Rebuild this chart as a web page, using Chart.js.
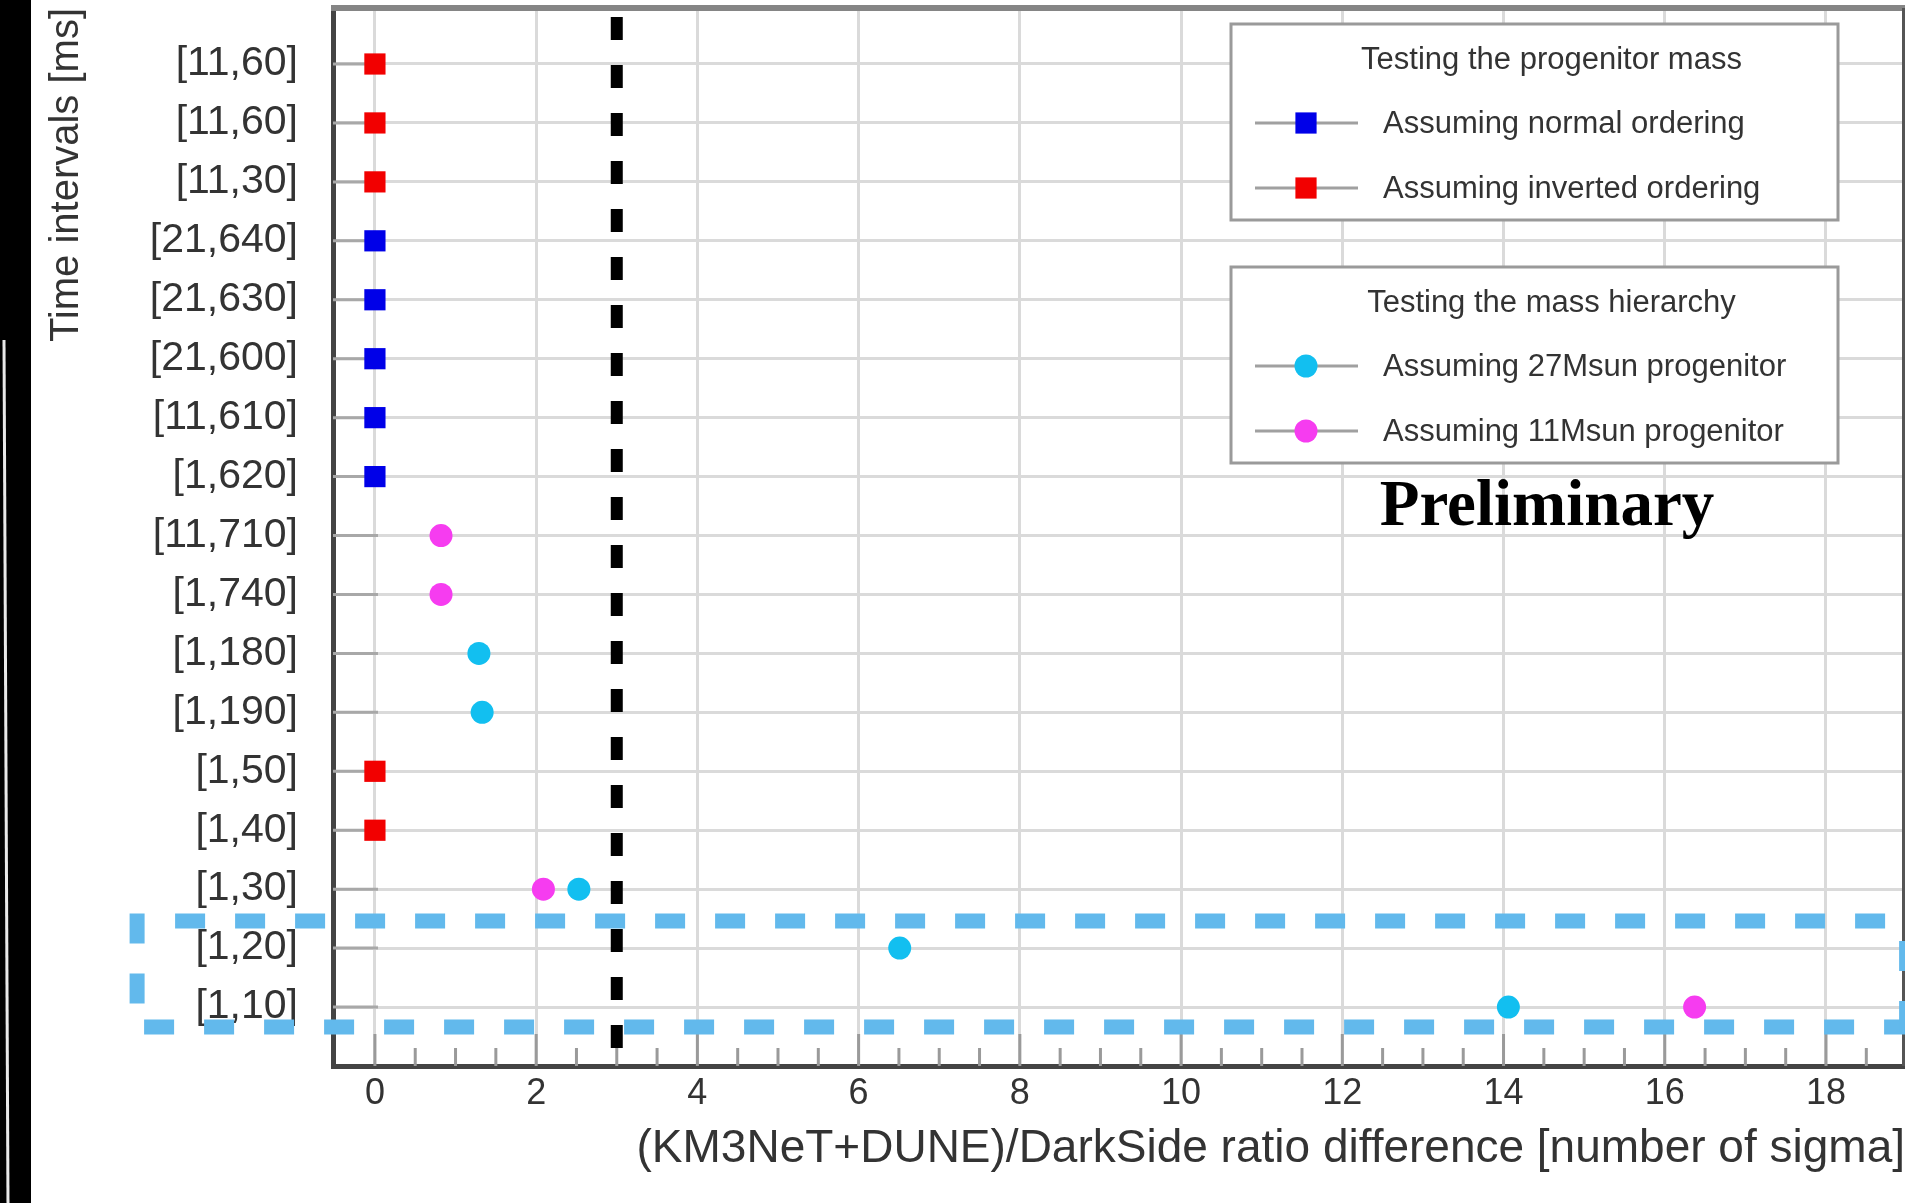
<!DOCTYPE html>
<html>
<head>
<meta charset="utf-8">
<title>Time intervals vs ratio difference</title>
<script src="https://cdn.jsdelivr.net/npm/chart.js@4.4.1/dist/chart.umd.min.js"></script>
<style>
  html, body { margin: 0; padding: 0; background: #fff; }
  #wrap { width: 1905px; height: 1203px; overflow: hidden; }
</style>
</head>
<body>
<div id="wrap"><canvas id="sigmaChart" width="1905" height="1203"></canvas></div>
<script>
//* Input data //*

// Time intervals, top row first.
var timeIntervals = ['[11,60]', '[11,60]', '[11,30]', '[21,640]', '[21,630]', '[21,600]', '[11,610]', '[1,620]',
    '[11,710]', '[1,740]', '[1,180]', '[1,190]', '[1,50]', '[1,40]', '[1,30]', '[1,20]', '[1,10]'];
var xTickValues = [0, 2, 4, 6, 8, 10, 12, 14, 16, 18];

// Number of sigma for each row (null = no point on that row).
var normalOrdering   = [null, null, null, 0, 0, 0, 0, 0, null, null, null, null, null, null, null, null, null];
var invertedOrdering = [0, 0, 0, null, null, null, null, null, null, null, null, null, 0, 0, null, null, null];
var progenitor27     = [null, null, null, null, null, null, null, null, null, null, 1.29, 1.33, null, null, 2.53, 6.51, 14.06];
var progenitor11     = [null, null, null, null, null, null, null, null, 0.82, 0.82, null, null, null, null, 2.09, null, 16.37];

var sigmaThreshold = 3;

var legendGroups = [
    {title: 'Testing the progenitor mass', datasets: [0, 1]},
    {title: 'Testing the mass hierarchy', datasets: [2, 3]}
];

//* Layout //*

var fontFamily = '"Liberation Sans", Arial, sans-serif';
var textColour = '#333';
var xMin = -0.52, xMax = 18.98;
var yMin = 0, yMax = 17.95;
// Highlight box around the two shortest intervals, in axis units.
var highlight = {xMin: -2.95, xMax: 19.0, yMin: 0.66, yMax: 2.46};

function toPoints(values) {
    // Turn a row list into scatter points, row 0 at the top.
    var points = [];
    for (var i = 0; i < values.length; i++) {
        if (values[i] !== null) {
            points.push({x: values[i], y: timeIntervals.length - i});
        }
    }
    return points;
}

function noEdgePadding(axis) {
    // The end labels sit well inside the range, so no extra room is needed.
    axis.paddingTop = 0;
    axis.paddingBottom = 0;
    axis.paddingLeft = 0;
    axis.paddingRight = 0;
}

//* Plugins //*

var leftBand = {
    id: 'leftBand',
    beforeDraw: function(chart) {
        var ctx = chart.ctx;
        ctx.save();
        ctx.fillStyle = '#fff';
        ctx.fillRect(0, 0, chart.width, chart.height);
        ctx.fillStyle = '#000';
        ctx.fillRect(0, 0, 31, chart.height);
        ctx.strokeStyle = '#e8e8e8';
        ctx.lineWidth = 3;
        ctx.beginPath();
        ctx.moveTo(4, 340);
        ctx.lineTo(8, chart.height);
        ctx.stroke();
        ctx.restore();
    }
};

var innerTicks = {
    id: 'innerTicks',
    beforeDatasetsDraw: function(chart) {
        var ctx = chart.ctx;
        var area = chart.chartArea;
        var xs = chart.scales.x;
        var ys = chart.scales.y;
        ctx.save();
        ctx.lineWidth = 3;
        // Stubs on the left axis for each row.
        ctx.strokeStyle = '#a8a8a8';
        ys.ticks.forEach(function(t) {
            var py = ys.getPixelForValue(t.value);
            ctx.beginPath();
            ctx.moveTo(area.left, py);
            ctx.lineTo(area.left + 45, py);
            ctx.stroke();
        });
        // Major and minor ticks on the bottom axis.
        ctx.strokeStyle = '#9a9a9a';
        for (var v = 0; v <= xMax; v += 0.5) {
            var px = xs.getPixelForValue(v);
            var len = (v % 2 === 0) ? 32 : 18;
            ctx.beginPath();
            ctx.moveTo(px, area.bottom);
            ctx.lineTo(px, area.bottom - len);
            ctx.stroke();
        }
        // Top and right frame.
        ctx.strokeStyle = '#858585';
        ctx.lineWidth = 6;
        ctx.beginPath();
        ctx.moveTo(area.left - 2, area.top);
        ctx.lineTo(area.right, area.top);
        ctx.stroke();
        ctx.strokeStyle = '#555';
        ctx.lineWidth = 3;
        ctx.beginPath();
        ctx.moveTo(area.right - 1.5, area.top);
        ctx.lineTo(area.right - 1.5, area.bottom);
        ctx.stroke();
        ctx.restore();
    }
};

var highlightBox = {
    id: 'highlightBox',
    afterDatasetsDraw: function(chart) {
        var ctx = chart.ctx;
        var xs = chart.scales.x;
        var ys = chart.scales.y;
        var L = xs.getPixelForValue(highlight.xMin);
        var R = xs.getPixelForValue(highlight.xMax);
        var T = ys.getPixelForValue(highlight.yMax);
        var B = ys.getPixelForValue(highlight.yMin);
        ctx.save();
        ctx.strokeStyle = '#62b9ec';
        ctx.lineWidth = 15;
        ctx.lineCap = 'butt';
        ctx.setLineDash([30, 30]);
        // Left side, from the corner down.
        ctx.lineDashOffset = 0;
        ctx.beginPath();
        ctx.moveTo(L, T - 7.5);
        ctx.lineTo(L, B);
        ctx.stroke();
        // Top edge.
        ctx.lineDashOffset = 30;
        ctx.beginPath();
        ctx.moveTo(L + 8, T);
        ctx.lineTo(R, T);
        ctx.stroke();
        // Bottom edge.
        ctx.lineDashOffset = 0;
        ctx.beginPath();
        ctx.moveTo(L + 7, B);
        ctx.lineTo(R, B);
        ctx.stroke();
        // Right side.
        ctx.lineDashOffset = 0;
        ctx.beginPath();
        ctx.moveTo(R, T + 20);
        ctx.lineTo(R, B + 7.5);
        ctx.stroke();
        ctx.restore();
    }
};

function drawLegendBox(chart, top, group) {
    var ctx = chart.ctx;
    var left = 1231, right = 1838, height = 196;
    ctx.save();
    ctx.fillStyle = '#fff';
    ctx.fillRect(left, top, right - left, height);
    ctx.strokeStyle = '#9a9a9a';
    ctx.lineWidth = 3;
    ctx.strokeRect(left, top, right - left, height);
    ctx.fillStyle = textColour;
    ctx.textBaseline = 'middle';
    ctx.textAlign = 'center';
    ctx.font = '31px ' + fontFamily;
    ctx.fillText(group.title, (left + right) / 2 + 17, top + 36);
    ctx.textAlign = 'left';
    group.datasets.forEach(function(idx, k) {
        var ds = chart.data.datasets[idx];
        var y = top + 99 + k * 65;
        ctx.strokeStyle = '#a0a0a0';
        ctx.lineWidth = 3;
        ctx.setLineDash([]);
        ctx.beginPath();
        ctx.moveTo(1255, y);
        ctx.lineTo(1358, y);
        ctx.stroke();
        ctx.fillStyle = ds.backgroundColor;
        Chart.helpers.drawPoint(ctx, {pointStyle: ds.pointStyle, radius: ds.pointRadius, rotation: 0, borderWidth: 0}, 1306, y);
        ctx.fillStyle = textColour;
        ctx.fillText(ds.label, 1383, y + 1);
    });
    ctx.restore();
}

var groupedLegend = {
    id: 'groupedLegend',
    afterDraw: function(chart) {
        drawLegendBox(chart, 24, legendGroups[0]);
        drawLegendBox(chart, 267, legendGroups[1]);
        var ctx = chart.ctx;
        ctx.save();
        ctx.fillStyle = '#000';
        ctx.font = 'bold 65px "Liberation Serif", "Times New Roman", serif';
        ctx.textAlign = 'center';
        ctx.textBaseline = 'middle';
        ctx.fillText('Preliminary', 1547, 508);
        ctx.restore();
    }
};

//* Chart //*

function makeChart() {
    var ctx = document.getElementById('sigmaChart').getContext('2d');
    return new Chart(ctx, {
        type: 'scatter',
        data: {
            datasets: [{
                label: 'Assuming normal ordering',
                data: toPoints(normalOrdering),
                backgroundColor: '#0000e8',
                pointStyle: 'rect',
                pointRadius: 15,
                pointBorderWidth: 0
            }, {
                label: 'Assuming inverted ordering',
                data: toPoints(invertedOrdering),
                backgroundColor: '#f20000',
                pointStyle: 'rect',
                pointRadius: 15,
                pointBorderWidth: 0
            }, {
                label: 'Assuming 27Msun progenitor',
                data: toPoints(progenitor27),
                backgroundColor: '#12bff0',
                pointStyle: 'circle',
                pointRadius: 11.5,
                pointBorderWidth: 0
            }, {
                label: 'Assuming 11Msun progenitor',
                data: toPoints(progenitor11),
                backgroundColor: '#f63cf0',
                pointStyle: 'circle',
                pointRadius: 11.5,
                pointBorderWidth: 0
            }, {
                type: 'line',
                label: '3 sigma',
                data: [{x: sigmaThreshold, y: yMax}, {x: sigmaThreshold, y: yMin}],
                borderColor: '#000',
                borderWidth: 12,
                borderDash: [23, 25],
                borderDashOffset: 39,
                pointRadius: 0,
                fill: false
            }]
        },
        options: {
            responsive: false,
            animation: false,
            events: [],
            layout: {autoPadding: false, padding: {top: 8, right: 0, bottom: 0, left: 0}},
            plugins: {legend: {display: false}, tooltip: {enabled: false}},
            scales: {
                x: {
                    type: 'linear',
                    min: xMin,
                    max: xMax,
                    afterBuildTicks: function(axis) {
                        axis.ticks = xTickValues.map(function(v) { return {value: v}; });
                    },
                    afterFit: function(axis) { axis.height = 137; noEdgePadding(axis); },
                    ticks: {
                        color: textColour,
                        font: {family: fontFamily, size: 36},
                        padding: 6,
                        maxRotation: 0
                    },
                    grid: {color: '#dadada', lineWidth: 3, drawTicks: false},
                    border: {color: '#444', width: 5},
                    title: {
                        display: true,
                        text: '(KM3NeT+DUNE)/DarkSide ratio difference [number of sigma]',
                        align: 'end',
                        color: textColour,
                        font: {family: fontFamily, size: 46},
                        padding: {top: 0, bottom: 26}
                    }
                },
                y: {
                    type: 'linear',
                    min: yMin,
                    max: yMax,
                    afterBuildTicks: function(axis) {
                        axis.ticks = timeIntervals.map(function(label, i) { return {value: timeIntervals.length - i}; });
                    },
                    afterFit: function(axis) { axis.width = 333; noEdgePadding(axis); },
                    ticks: {
                        color: textColour,
                        font: {family: fontFamily, size: 41},
                        padding: 35,
                        callback: function(value) { return timeIntervals[timeIntervals.length - value]; }
                    },
                    grid: {color: '#dadada', lineWidth: 3, drawTicks: false},
                    border: {color: '#444', width: 5},
                    title: {
                        display: true,
                        text: 'Time intervals [ms]',
                        align: 'end',
                        color: textColour,
                        font: {family: fontFamily, size: 40},
                        padding: {top: 43, bottom: 0}
                    }
                }
            }
        },
        plugins: [leftBand, innerTicks, highlightBox, groupedLegend]
    });
}

var sigmaChart = makeChart();
</script>
</body>
</html>
